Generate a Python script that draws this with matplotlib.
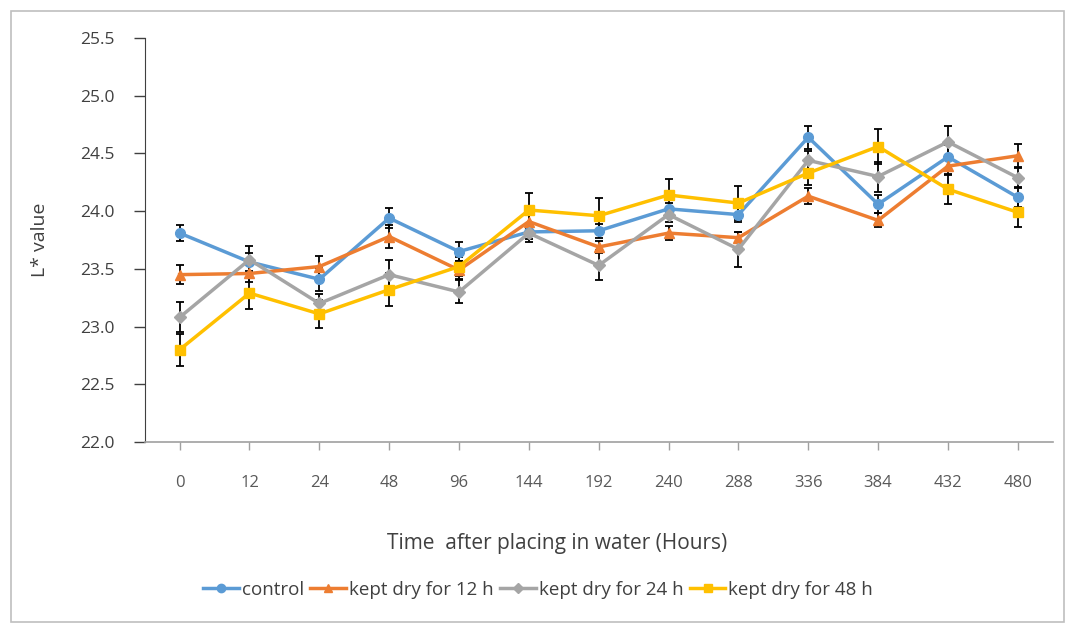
import matplotlib
matplotlib.use('Agg')
import matplotlib.pyplot as plt
from matplotlib.patches import Rectangle
from matplotlib.lines import Line2D

plt.rcParams['font.family'] = ['Open Sans', 'DejaVu Sans']

hours = ['0', '12', '24', '48', '96', '144', '192', '240', '288', '336', '384', '432', '480']

control = [23.81, 23.56, 23.41, 23.94, 23.65, 23.82, 23.83, 24.02, 23.97, 24.64, 24.06, 24.47, 24.12]
dry_12 = [23.45, 23.46, 23.52, 23.78, 23.49, 23.91, 23.69, 23.81, 23.77, 24.13, 23.92, 24.39, 24.48]
dry_24 = [23.08, 23.58, 23.20, 23.45, 23.30, 23.81, 23.53, 23.97, 23.67, 24.44, 24.30, 24.60, 24.29]
dry_48 = [22.80, 23.29, 23.11, 23.32, 23.52, 24.01, 23.96, 24.14, 24.07, 24.33, 24.56, 24.19, 23.99]

control_err = [0.07, 0.08, 0.10, 0.09, 0.08, 0.06, 0.06, 0.05, 0.06, 0.10, 0.08, 0.10, 0.08]
dry_12_err = [0.08, 0.07, 0.09, 0.10, 0.08, 0.06, 0.05, 0.06, 0.05, 0.07, 0.06, 0.08, 0.10]
dry_24_err = [0.13, 0.12, 0.08, 0.13, 0.10, 0.08, 0.13, 0.06, 0.15, 0.08, 0.13, 0.14, 0.08]
dry_48_err = [0.14, 0.14, 0.12, 0.14, 0.08, 0.15, 0.15, 0.14, 0.15, 0.10, 0.15, 0.13, 0.13]

series = [
    ('control', control, control_err, '#5B9BD5', 'o'),
    ('kept dry for 12 h', dry_12, dry_12_err, '#ED7D31', '^'),
    ('kept dry for 24 h', dry_24, dry_24_err, '#A5A5A5', 'D'),
    ('kept dry for 48 h', dry_48, dry_48_err, '#FFC000', 's'),
]

fig = plt.figure(figsize=(10.72, 6.23), dpi=100)
ax = fig.add_axes([0.135, 0.2905, 0.847, 0.6485])

x = list(range(len(hours)))
handles = []
for label, values, errs, color, marker in series:
    msize = 7 if marker != 'D' else 6
    ax.errorbar(
        x, values, yerr=errs,
        color=color, marker=marker, markersize=msize,
        linewidth=2.5,
        ecolor='black', elinewidth=1.3, capsize=3, capthick=1.3
    )
    handles.append(Line2D([], [], color=color, marker=marker, markersize=msize - 1,
                          linewidth=2.5, label=label))

ax.set_xlim(-0.5, len(hours) - 0.5)
ax.set_ylim(22.0, 25.5)
ax.set_yticks([22.0, 22.5, 23.0, 23.5, 24.0, 24.5, 25.0, 25.5])
ax.set_yticklabels(['22.0', '22.5', '23.0', '23.5', '24.0', '24.5', '25.0', '25.5'])
ax.set_xticks(x)
ax.set_xticklabels(hours)

for side in ['top', 'right']:
    ax.spines[side].set_visible(False)
ax.spines['left'].set_color('#404040')
ax.spines['bottom'].set_color('#A0A0A0')
ax.spines['bottom'].set_linewidth(1.2)

ax.tick_params(axis='y', direction='out', length=8, width=1, color='#404040',
               labelsize=12.5, labelcolor='#404040', pad=14)
ax.tick_params(axis='x', direction='out', length=6, width=1, color='#A0A0A0',
               labelsize=12, labelcolor='#595959', pad=18)

ax.set_xlabel('Time  after placing in water (Hours)', fontsize=15, color='#404040')
ax.xaxis.set_label_coords(0.454, -0.225)
ax.set_ylabel('L* value', fontsize=14, color='#404040', labelpad=22)

legend = fig.legend(
    handles=handles,
    loc='center', bbox_to_anchor=(0.502, 0.053), ncol=4, frameon=False,
    fontsize=13.5, handlelength=1.9, handletextpad=0.15, columnspacing=0.35
)
for text in legend.get_texts():
    text.set_color('#404040')

fig.patches.append(Rectangle((0.0103, 0.002), 0.9822, 0.98, transform=fig.transFigure,
                             fill=False, edgecolor='#BFBFBF', linewidth=1.2))

fig.savefig('out.png', dpi=100)
plt.close()
